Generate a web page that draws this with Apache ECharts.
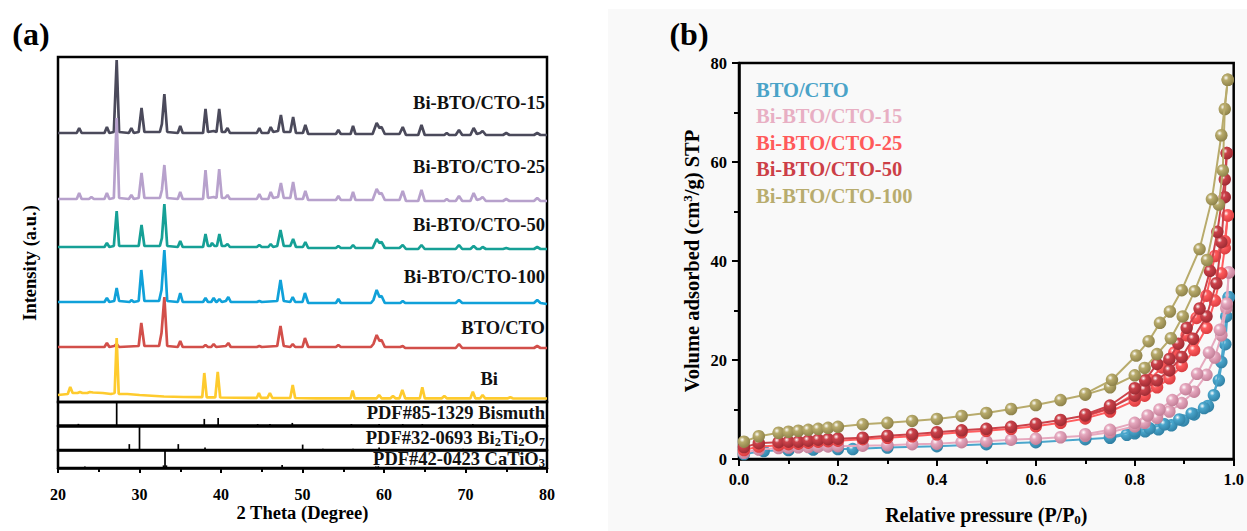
<!DOCTYPE html>
<html><head><meta charset="utf-8">
<script src="https://cdn.jsdelivr.net/npm/echarts@6/dist/echarts.min.js"></script>
<style>html,body{margin:0;padding:0;background:#fff}#c{width:1247px;height:531px}</style>
</head><body><div id="c"></div><script>
// ---------- XRD patterns: [2theta, intensity (a.u., stacked offset)] ----------
const xrd15 = [[20,269],[22.3,269],[22.6,274],[22.9,269],[25.7,269],[26.0,275],[26.3,269],[26.85,270],[27.2,342],[27.5,270],[28.7,269],[29.0,274],[29.3,269],[29.9,270],[30.25,294],[30.6,270],[32.5,270],[32.75,278],[33.05,308],[33.4,270],[34.7,269],[35.0,276],[35.3,269],[37.8,269],[38.1,293],[38.4,270],[39.1,271],[39.45,270],[39.78,293],[40.1,270],[40.5,270],[40.8,274],[41.1,269],[44.4,269],[44.7,274],[45.0,269],[45.8,269],[46.1,275],[46.4,270],[47.0,271],[47.35,287],[47.7,270],[48.5,270],[48.85,285],[49.2,269],[50.05,269],[50.35,277],[50.7,268],[54.1,268],[54.4,272],[54.7,268],[55.9,268],[56.2,276],[56.5,268],[58.6,268],[59.1,279],[59.45,274],[59.7,275],[60.1,268],[61.9,268],[62.3,275],[62.7,267],[64.2,267],[64.6,277],[65.0,267],[67.4,267],[67.7,269],[68.0,267],[68.8,267],[69.2,272],[69.6,267],[70.6,267],[71.0,274],[71.4,268],[71.8,269],[72.1,271],[72.5,267],[74.6,267],[75.0,269],[75.4,267],[78.4,267],[78.8,269],[79.2,267],[80,267]];
const xrd25 = [[20,203],[22.3,203],[22.6,209],[22.9,203],[23.8,203],[24.1,205],[24.4,203],[25.7,203],[26.0,209],[26.3,203],[26.85,204],[27.2,284],[27.5,204],[28.7,203],[29.0,207],[29.3,203],[29.9,204],[30.25,229],[30.6,204],[32.5,204],[32.75,212],[33.05,237],[33.4,204],[34.7,203],[35.0,210],[35.3,203],[37.8,203],[38.1,232],[38.4,204],[39.1,205],[39.45,204],[39.78,233],[40.1,204],[40.5,204],[40.8,207],[41.1,203],[44.4,203],[44.7,208],[45.0,203],[45.8,203],[46.1,210],[46.4,204],[47.0,205],[47.35,219],[47.7,204],[48.5,204],[48.85,220],[49.2,203],[50.05,203],[50.35,211],[50.7,202],[54.1,202],[54.4,206],[54.7,202],[55.9,202],[56.2,210],[56.5,202],[58.6,202],[59.1,213],[59.45,208],[59.7,209],[60.1,202],[61.9,202],[62.3,211],[62.7,201],[64.2,201],[64.6,212],[65.0,201],[67.4,201],[67.7,203],[68.0,201],[68.8,201],[69.2,206],[69.6,201],[70.6,201],[71.0,209],[71.4,202],[71.8,203],[72.1,205],[72.5,201],[74.6,201],[75.0,203],[75.4,201],[78.4,201],[78.8,204],[79.2,201],[80,201]];
const xrd50 = [[20,155],[25.7,155],[26.0,159],[26.3,155],[26.85,156],[27.2,191],[27.5,156],[29.9,156],[30.25,177],[30.6,156],[32.5,156],[32.75,164],[33.05,198],[33.4,156],[34.7,155],[35.0,161],[35.3,155],[37.8,155],[38.1,168],[38.4,156],[38.7,156],[38.9,159],[39.2,156],[39.5,156],[39.8,168],[40.1,156],[40.5,156],[40.8,158],[41.1,155],[44.4,155],[44.7,157],[45.0,155],[45.8,155],[46.1,158],[46.4,155],[46.9,156],[47.3,172],[47.7,156],[48.5,156],[48.85,163],[49.2,155],[50.05,155],[50.35,160],[50.7,154],[54.1,154],[54.4,156],[54.7,154],[55.9,154],[56.2,157],[56.5,154],[58.6,154],[59.1,163],[59.45,159],[59.7,160],[60.1,154],[61.9,154],[62.3,157],[62.7,153],[64.2,153],[64.6,157],[65.0,153],[68.8,153],[69.2,157],[69.6,153],[70.6,153],[71.0,156],[71.4,153],[71.8,153],[72.1,155],[72.5,153],[74.6,153],[75.0,154],[75.4,153],[78.4,153],[78.8,155],[79.2,153],[80,153]];
const xrd100 = [[20,100],[25.7,100],[26.0,104],[26.3,100],[26.9,101],[27.2,114],[27.5,101],[28.8,100],[29.0,102],[29.3,100],[29.9,101],[30.22,132],[30.6,101],[32.4,101],[32.7,112],[33.05,152],[33.4,101],[34.7,100],[35.0,109],[35.3,100],[37.8,100],[38.1,104],[38.4,100],[38.8,100],[39.1,104],[39.4,100],[39.5,100],[39.8,103],[40.1,100],[40.6,101],[40.9,105],[41.2,100],[44.4,100],[44.7,101],[45.0,100],[46.9,101],[47.3,122],[47.7,101],[48.5,100],[48.8,105],[49.1,100],[50.0,100],[50.3,109],[50.7,99],[54.1,99],[54.4,103],[54.7,99],[58.4,99],[58.7,102],[59.1,112],[59.45,105],[59.7,106],[60.1,99],[62.0,99],[62.3,101],[62.6,99],[68.8,99],[69.2,102],[69.6,99],[78.4,99],[78.8,102],[79.2,99],[80,98]];
const xrdBtoCto = [[20,55],[25.7,55],[26.0,59],[26.3,55],[26.9,56],[27.2,58],[27.5,55],[29.9,56],[30.22,79],[30.6,56],[32.4,56],[32.7,69],[33.05,105],[33.4,56],[34.7,55],[35.0,61],[35.3,55],[37.8,55],[38.1,57],[38.4,55],[38.8,55],[39.1,58],[39.4,55],[40.6,56],[40.9,59],[41.2,55],[44.4,55],[44.7,56],[45.0,55],[46.9,56],[47.3,76],[47.7,56],[48.5,55],[48.8,58],[49.1,55],[50.0,55],[50.3,64],[50.7,55],[54.1,55],[54.4,57],[54.7,55],[58.4,55],[58.7,58],[59.1,67],[59.45,61],[59.7,62],[60.1,55],[62.0,55],[62.3,56],[62.6,54],[68.8,54],[69.2,58],[69.6,54],[78.4,54],[78.8,56],[79.2,54],[80,54]];
const xrdBi = [[20,7],[21.2,8],[21.5,15],[21.8,9],[22.4,9],[22.7,10],[23.0,9],[23.6,9],[23.9,10],[24.3,9.5],[25.5,9],[26.5,8],[26.95,9],[27.2,64],[27.45,8],[28.5,8],[30,7],[33,5.5],[35.4,5],[37.7,4.8],[37.95,29],[38.25,4.7],[39.3,4.6],[39.6,30],[39.9,4.5],[43.6,4.2],[44.4,4.2],[44.65,9],[44.9,4.2],[45.7,4.1],[46.0,9],[46.3,4.0],[48.5,4],[48.8,17],[49.1,4],[51.7,3.7],[55.9,3.7],[56.15,11.3],[56.4,3.7],[59.1,3.7],[59.4,7],[59.7,3.7],[60.8,3.7],[61.1,6],[61.4,3.7],[61.9,3.7],[62.25,12],[62.6,3.7],[64.4,3.7],[64.7,14.7],[65.0,3.7],[67.1,3.7],[67.4,6],[67.7,3.7],[70.6,3.7],[70.9,10.3],[71.2,3.7],[71.8,3.7],[72.1,7],[72.4,3.7],[75.2,3.7],[75.5,4.7],[75.8,3.7],[80,3.5]];
const xrdNames = ['Bi-BTO/CTO-15','Bi-BTO/CTO-25','Bi-BTO/CTO-50','Bi-BTO/CTO-100','BTO/CTO','Bi'];
const xrdColors = ['#4b4a5b','#b7a1cc','#16a096','#10a1d9','#d24f4a','#fecb2e'];

// ---------- Reference cards: [2theta, relative height %] ----------
const pdfBismuth = [[22.5,7],[27.2,100],[37.95,28],[39.65,32],[44.5,6],[46.0,6],[48.75,11],[56.0,6],[59.4,6],[62.3,6],[64.7,6],[70.9,6]];
const pdfBi2Ti2O7 = [[28.75,25],[30.0,100],[34.76,25],[38.04,11],[50.02,23],[52.5,5],[56.2,5],[59.4,11],[69.7,5]];
const pdfCaTiO3 = [[23.3,8],[32.95,15],[33.13,100],[33.3,15],[47.5,17],[59.0,8],[59.3,10],[69.65,6]];

// ---------- N2 isotherms: [P/P0, volume cm3/g] ----------
const btoAds = [[0.01,1.0],[0.05,1.6],[0.10,1.8],[0.15,1.9],[0.20,2.0],[0.23,2.0],[0.30,2.3],[0.40,2.6],[0.50,3.0],[0.60,3.4],[0.70,4.0],[0.75,4.3],[0.784,4.9],[0.80,5.2],[0.821,5.6],[0.848,6.0],[0.874,6.8],[0.898,7.8],[0.92,9.0],[0.948,10.7],[0.97,15.9],[0.983,23.2],[0.99,32.7]];
const btoDes = [[0.99,32.7],[0.985,28.8],[0.975,19.6],[0.96,12.9],[0.94,10.3],[0.915,9.2],[0.89,8.0],[0.86,7.0],[0.83,6.2],[0.80,5.6],[0.75,4.5]];
const bi15Ads = [[0.01,1.25],[0.04,1.9],[0.08,2.2],[0.10,2.3],[0.12,2.35],[0.14,2.4],[0.16,2.5],[0.18,2.55],[0.20,2.6],[0.25,2.7],[0.30,2.8],[0.35,3.0],[0.40,3.1],[0.45,3.4],[0.50,3.6],[0.55,3.9],[0.60,4.1],[0.65,4.4],[0.70,4.7],[0.75,5.4],[0.80,6.6],[0.82,7.3],[0.845,8.3],[0.87,9.6],[0.895,11.3],[0.92,13.6],[0.945,17.0],[0.962,20.5],[0.975,25.0],[0.985,30.5],[0.99,37.7]];
const bi15Des = [[0.99,37.7],[0.986,31.4],[0.972,26.1],[0.95,21.5],[0.926,17.2],[0.903,14.1],[0.876,11.9],[0.85,10.0],[0.826,8.8],[0.80,7.3],[0.75,5.9],[0.70,5.0]];
const bi25Ads = [[0.01,1.8],[0.04,2.5],[0.08,2.8],[0.10,3.0],[0.12,3.1],[0.14,3.3],[0.16,3.5],[0.18,3.6],[0.20,3.7],[0.25,4.0],[0.30,4.3],[0.35,4.6],[0.40,5.0],[0.45,5.4],[0.50,5.7],[0.55,6.1],[0.60,6.6],[0.65,7.3],[0.70,8.2],[0.75,9.6],[0.80,11.8],[0.82,12.8],[0.845,14.5],[0.87,16.3],[0.895,18.8],[0.92,22.0],[0.945,26.5],[0.962,32.0],[0.975,37.5],[0.982,42.6],[0.988,49.2]];
const bi25Des = [[0.988,49.2],[0.982,44.0],[0.962,41.0],[0.945,33.0],[0.925,28.5],[0.905,25.0],[0.88,21.5],[0.855,18.5],[0.83,16.0],[0.80,13.2],[0.75,10.2],[0.70,8.6]];
const bi50Ads = [[0.01,2.4],[0.04,3.2],[0.08,3.4],[0.10,3.5],[0.12,3.5],[0.14,3.7],[0.16,3.9],[0.18,4.0],[0.20,4.1],[0.25,4.3],[0.30,4.7],[0.35,5.0],[0.40,5.4],[0.45,5.8],[0.50,6.1],[0.55,6.5],[0.60,7.1],[0.65,7.9],[0.70,8.8],[0.75,10.3],[0.80,12.8],[0.82,14.0],[0.845,15.9],[0.87,17.9],[0.895,20.6],[0.918,24.3],[0.945,28.8],[0.965,35.5],[0.975,43.8],[0.982,52.9],[0.986,61.8]];
const bi50Des = [[0.986,61.8],[0.982,56.5],[0.967,45.9],[0.952,38.0],[0.931,30.4],[0.905,26.5],[0.888,23.3],[0.87,20.2],[0.845,19.2],[0.821,15.9],[0.80,14.3],[0.75,10.8],[0.70,9.0]];
const bi100Ads = [[0.01,3.5],[0.04,4.6],[0.08,5.3],[0.10,5.5],[0.12,5.7],[0.14,5.9],[0.16,6.1],[0.18,6.3],[0.20,6.5],[0.25,7.0],[0.30,7.3],[0.35,7.7],[0.40,8.1],[0.45,8.7],[0.50,9.3],[0.55,10.1],[0.60,10.9],[0.65,11.9],[0.70,13.0],[0.75,14.5],[0.80,16.9],[0.82,18.4],[0.845,21.2],[0.873,24.4],[0.897,28.8],[0.921,33.9],[0.946,40.2],[0.97,51.4],[0.978,58.3],[0.982,70.7],[0.988,76.6]];
const bi100Des = [[0.988,76.6],[0.975,65.4],[0.956,52.5],[0.931,42.4],[0.895,34.1],[0.871,29.8],[0.851,27.5],[0.828,23.8],[0.803,20.9],[0.754,16.0],[0.70,13.2]];
const betNames = ['BTO/CTO','Bi-BTO/CTO-15','Bi-BTO/CTO-25','Bi-BTO/CTO-50','Bi-BTO/CTO-100'];
const betColors = ['#4aa6cc','#e6a9bf','#ff5c5e','#cc424a','#b8ab6c'];
const betDark = ['#2f7fa3','#c27d96','#d83b3e','#9c2a32','#8c8048'];
const betLegendColors = ['#4aa3c8','#e8afc3','#ff5a5a','#cc3f47','#b8ac6e'];

const FONT = '"Liberation Serif", "Times New Roman", serif';
const chart = echarts.init(document.getElementById('c'), null, {renderer: 'svg'});

const xrdData = [xrd15, xrd25, xrd50, xrd100, xrdBtoCto, xrdBi];
const betAds = [btoAds, bi15Ads, bi25Ads, bi50Ads, bi100Ads];
const betDes = [btoDes, bi15Des, bi25Des, bi50Des, bi100Des];
const pdfData = [pdfBismuth, pdfBi2Ti2O7, pdfCaTiO3];

const series = [];
xrdData.forEach((d, i) => {
  series.push({type: 'line', name: xrdNames[i], xAxisIndex: 0, yAxisIndex: 0, data: d,
    showSymbol: false, symbol: 'none', silent: true, z: 2 + i,
    lineStyle: {width: 2.7, color: xrdColors[i]}});
});
pdfData.forEach((d, i) => {
  series.push({type: 'bar', name: 'pdf' + i, xAxisIndex: 1 + i, yAxisIndex: 1 + i, data: d,
    barWidth: 1.7, silent: true, itemStyle: {color: '#000'}});
});
function ball(c, d) {
  return {type: 'radial', x: 0.36, y: 0.34, r: 0.7,
    colorStops: [{offset: 0, color: '#ffffff'}, {offset: 0.3, color: c}, {offset: 1, color: d}]};
}
betNames.forEach((n, i) => {
  [betAds[i], betDes[i]].forEach((d, k) => {
    series.push({type: 'line', name: n, xAxisIndex: 4, yAxisIndex: 4, data: d,
      symbol: 'circle', symbolSize: 12.5, z: 10 + i * 2 + k,
      lineStyle: {width: 2, color: betColors[i]},
      itemStyle: {color: ball(betColors[i], betDark[i]), borderWidth: 0}});
  });
});

const border = {show: true, borderColor: '#000', borderWidth: 2.5, backgroundColor: 'transparent'};
const hiddenX = (g) => ({gridIndex: g, type: 'value', min: 20, max: 80, show: false});
const hiddenY = (g, mx) => ({gridIndex: g, type: 'value', min: 0, max: mx, show: false});
const labelStyle = {fontFamily: FONT, fontWeight: 'bold', color: '#000'};

const option = {
  animation: false,
  backgroundColor: '#ffffff',
  grid: [
    Object.assign({left: 58, top: 57, width: 489, height: 345}, border),
    Object.assign({left: 58, top: 402, width: 489, height: 23.5}, border),
    Object.assign({left: 58, top: 426.5, width: 489, height: 23.5}, border),
    Object.assign({left: 58, top: 450.5, width: 489, height: 17.5}, border),
    Object.assign({left: 739, top: 63, width: 498, height: 404}, border)
  ],
  xAxis: [
    hiddenX(0), hiddenX(1), hiddenX(2),
    {gridIndex: 3, type: 'value', min: 20, max: 80, interval: 10,
      axisLine: {show: true, lineStyle: {color: '#000', width: 2.5}},
      axisTick: {show: true, length: 5, lineStyle: {color: '#000', width: 2}},
      minorTick: {show: true, splitNumber: 2, length: 4, lineStyle: {color: '#000', width: 2}},
      splitLine: {show: false},
      axisLabel: Object.assign({margin: 18, fontSize: 16}, labelStyle),
      name: '2 Theta (Degree)', nameLocation: 'middle', nameGap: 35,
      nameTextStyle: Object.assign({fontSize: 18.5}, labelStyle)},
    {gridIndex: 4, type: 'value', min: 0, max: 1, interval: 0.2,
      axisLine: {show: true, lineStyle: {color: '#000', width: 2.5}},
      axisTick: {show: true, length: 7, lineStyle: {color: '#000', width: 2}},
      minorTick: {show: true, splitNumber: 2, length: 5, lineStyle: {color: '#000', width: 2}},
      splitLine: {show: false},
      axisLabel: Object.assign({margin: 12, fontSize: 16.5, formatter: v => v.toFixed(1)}, labelStyle),
      name: '{a|Relative pressure (P/P}{s|0}{a|)}', nameLocation: 'middle', nameGap: 45,
      nameTextStyle: Object.assign({fontSize: 20, rich: {
        a: Object.assign({fontSize: 20, lineHeight: 22}, labelStyle),
        s: Object.assign({fontSize: 13, lineHeight: 3, verticalAlign: 'bottom'}, labelStyle)}}, labelStyle)}
  ],
  yAxis: [
    hiddenY(0, 345), hiddenY(1, 100), hiddenY(2, 100), hiddenY(3, 100),
    {gridIndex: 4, type: 'value', min: 0, max: 80, interval: 20,
      axisLine: {show: true, lineStyle: {color: '#000', width: 2.5}},
      axisTick: {show: true, length: 7, lineStyle: {color: '#000', width: 2}},
      minorTick: {show: true, splitNumber: 2, length: 5, lineStyle: {color: '#000', width: 2}},
      splitLine: {show: false},
      axisLabel: Object.assign({margin: 12, fontSize: 16.5}, labelStyle),
      name: '{a|Volume adsorbed (cm}{p|3}{a|/g) STP}', nameLocation: 'middle', nameGap: 36,
      nameTextStyle: Object.assign({fontSize: 20.5, rich: {
        a: Object.assign({fontSize: 20.5, lineHeight: 22}, labelStyle),
        p: Object.assign({fontSize: 13, lineHeight: 13, verticalAlign: 'top'}, labelStyle)}}, labelStyle)}
  ],
  legend: {
    orient: 'vertical', left: 746, top: 74, icon: 'none', itemWidth: 0, itemHeight: 20,
    itemGap: 5.5, selectedMode: false,
    textStyle: {fontFamily: FONT, fontWeight: 'bold', fontSize: 20.5},
    data: betNames.map((n, i) => ({name: n, textStyle: {color: betLegendColors[i]}}))
  },
  graphic: [
    {type: 'rect', z: -10, silent: true, shape: {x: 608, y: 9, width: 639, height: 522}, style: {fill: '#f9f9f9'}},
    {type: 'text', x: 31, y: 34, style: {text: '(a)', align: 'center', verticalAlign: 'middle', fontSize: 32, fontWeight: 'bold', fontFamily: FONT, fill: '#000'}},
    {type: 'text', x: 689, y: 34, style: {text: '(b)', align: 'center', verticalAlign: 'middle', fontSize: 32, fontWeight: 'bold', fontFamily: FONT, fill: '#000'}},
    {type: 'text', x: 29.5, y: 263, rotation: Math.PI / 2, style: {text: 'Intensity (a.u.)', align: 'center', verticalAlign: 'middle', fontSize: 18.5, fontWeight: 'bold', fontFamily: FONT, fill: '#000'}},
    ...[[xrdNames[0], 545, 103], [xrdNames[1], 545, 167], [xrdNames[2], 545, 225], [xrdNames[3], 545, 277], [xrdNames[4], 545, 328], [xrdNames[5], 498, 379]].map(t => ({
      type: 'text', x: t[1], y: t[2], z: 50,
      style: {text: t[0], align: 'right', verticalAlign: 'middle', fontSize: 18.5, fontWeight: 'bold', fontFamily: FONT, fill: '#111'}})),
    ...[['{a|PDF#85-1329 Bismuth}', 413], ['{a|PDF#32-0693 Bi}{s|2}{a|Ti}{s|2}{a|O}{s|7}', 438], ['{a|PDF#42-0423 CaTiO}{s|3}', 459]].map(t => ({
      type: 'text', x: 545, y: t[1], z: 50,
      style: {text: t[0], align: 'right', verticalAlign: 'middle', fill: '#111',
        rich: {a: {fontSize: 18.5, lineHeight: 20, fontWeight: 'bold', fontFamily: FONT, fill: '#111'},
               s: {fontSize: 12.5, lineHeight: 2, verticalAlign: 'bottom', fontWeight: 'bold', fontFamily: FONT, fill: '#111'}}}}))
  ],
  series: series
};
chart.setOption(option);
</script></body></html>
